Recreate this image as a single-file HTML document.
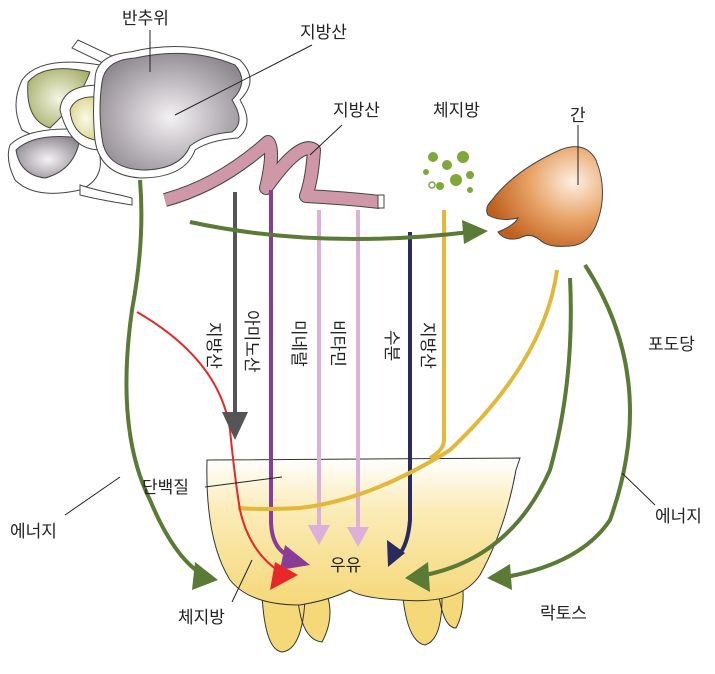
<!DOCTYPE html>
<html><head><meta charset="utf-8"><style>
html,body{margin:0;padding:0;background:#fff}
svg{display:block}
text{font-family:"Liberation Sans","Noto Sans CJK KR",sans-serif;font-size:17px;fill:#222}
</style></head><body>
<svg width="715" height="674" viewBox="0 0 715 674" xmlns="http://www.w3.org/2000/svg">
<defs>
<radialGradient id="gray" cx="0.5" cy="0.55" r="0.6"><stop offset="0" stop-color="#f4f2f4"/><stop offset="1" stop-color="#8f8890"/></radialGradient>
<radialGradient id="grn" cx="0.5" cy="0.5" r="0.6"><stop offset="0" stop-color="#f4f6e4"/><stop offset="1" stop-color="#a8b06a"/></radialGradient>
<radialGradient id="yel" cx="0.5" cy="0.5" r="0.6"><stop offset="0" stop-color="#fbfbe8"/><stop offset="1" stop-color="#d8d28a"/></radialGradient>
<radialGradient id="liv" cx="0.75" cy="0.35" r="0.75"><stop offset="0" stop-color="#fdf0e4"/><stop offset="0.5" stop-color="#e8a468"/><stop offset="1" stop-color="#c0601e"/></radialGradient>
<linearGradient id="udd" x1="0" y1="0" x2="0" y2="1"><stop offset="0" stop-color="#fff"/><stop offset="0.35" stop-color="#fbecb8"/><stop offset="1" stop-color="#f5d878"/></linearGradient>
</defs>

<!-- stomach -->
<path d="M72 48 L78 40 L112 56 L105 64 Z" fill="#fff" stroke="#444" stroke-width="1"/>
<path d="M22 80 Q40 55 100 65 Q110 120 95 140 Q60 150 22 130 Q10 105 22 80Z" fill="#fff" stroke="#444" stroke-width="1"/>
<path d="M28 82 Q45 62 90 72 Q80 100 50 128 Q25 120 28 82Z" fill="url(#grn)" stroke="#444" stroke-width="1"/>
<path d="M10 145 Q30 125 90 130 Q115 175 80 190 Q35 200 15 180 Q5 160 10 145Z" fill="#fff" stroke="#444" stroke-width="1"/>
<path d="M16 150 Q35 132 80 138 Q75 170 45 178 Q20 175 16 150Z" fill="url(#gray)" stroke="#444" stroke-width="1"/>
<path d="M60 110 Q62 85 100 85 Q115 120 100 150 Q70 150 60 110Z" fill="#fff" stroke="#444" stroke-width="1"/>
<path d="M70 110 Q75 95 100 97 Q105 125 95 140 Q72 135 70 110Z" fill="url(#yel)" stroke="#444" stroke-width="1"/>
<path d="M80 185 Q95 190 120 195 L132 198 L132 205 Q100 200 80 195 Z" fill="#fff" stroke="#444" stroke-width="1"/>
<path d="M95 80 Q95 55 130 52 Q190 38 240 60 Q260 80 240 100 Q255 125 238 138 Q210 140 195 150 Q185 178 140 178 Q100 175 95 140 Q92 110 95 80Z" fill="#fff" stroke="#444" stroke-width="1"/>
<path d="M102 82 Q105 60 135 58 Q190 46 235 65 Q250 82 232 100 Q246 122 232 132 Q205 134 190 146 Q180 170 142 170 Q105 168 102 138 Q98 110 102 82Z" fill="url(#gray)" stroke="#444" stroke-width="1"/>

<!-- intestine -->
<path d="M165 200 Q220 185 268 142 Q275 150 266 188 Q300 140 314 150 Q312 180 306 196 Q345 198 380 202" fill="none" stroke="#444" stroke-width="14" stroke-linejoin="round"/>
<path d="M165 200 Q220 185 268 142 Q275 150 266 188 Q300 140 314 150 Q312 180 306 196 Q345 198 380 202" fill="none" stroke="#cf98a8" stroke-width="12" stroke-linejoin="round"/>
<rect x="378" y="195" width="6" height="13" fill="#fff" stroke="#444"/>

<!-- liver -->
<path d="M492 200 Q515 170 560 150 Q585 140 596 160 Q608 190 598 220 Q590 245 570 246 Q548 248 540 240 Q530 232 520 238 Q505 242 498 232 Q515 225 518 218 Q500 222 488 215 Q484 208 492 200Z" fill="url(#liv)" stroke="#444" stroke-width="1"/>

<!-- fat droplets -->
<g fill="#7ea83a">
<circle cx="433" cy="157" r="5"/><circle cx="447" cy="165" r="5"/><circle cx="463" cy="157" r="6"/><circle cx="470" cy="175" r="4"/>
<circle cx="456" cy="180" r="6"/><circle cx="440" cy="186" r="4"/><circle cx="470" cy="190" r="3"/><circle cx="426" cy="172" r="3"/>
</g>
<circle cx="432" cy="185" r="3" fill="none" stroke="#7ea83a" stroke-width="1.5"/>

<!-- udder -->
<path d="M262 595 Q265 650 282 652 Q302 650 305 600 Z M298 600 Q302 640 322 642 Q334 620 328 598Z M403 598 Q408 642 425 645 Q442 640 442 598Z M438 590 Q443 628 456 628 Q466 610 462 578Z" fill="#f5d878" stroke="#333" stroke-width="1"/>
<path d="M207 460 L520 458 L516 470 Q505 530 480 575 Q460 605 400 600 Q360 598 350 590 Q330 600 300 605 Q250 605 230 580 Q205 540 207 460Z" fill="url(#udd)" stroke="#333" stroke-width="1"/>

<!-- arrows -->
<g fill="none" stroke-width="4">
<path d="M235 192 V420" stroke="#555"/>
<path d="M271 190 V520 Q271 552 295 558" stroke="#8a3d96"/>
<path d="M319 210 V530" stroke="#dcb0d8"/>
<path d="M358 210 V532" stroke="#dcb0d8"/>
<path d="M410 232 V520 Q408 545 398 556" stroke="#2a2a60"/>
<path d="M444 210 V440 Q444 450 430 458" stroke="#e2b83a"/>
<path d="M557 270 Q545 360 450 450 Q370 500 300 508 Q260 510 238 508" stroke="#e2b83a"/>
<path d="M137 312 Q220 360 230 430 Q235 480 240 510 Q250 555 285 575" stroke="#e82828" stroke-width="2"/>
<path d="M140 180 Q145 240 132 310 Q115 430 150 500 Q175 560 205 576" stroke="#5a7a36"/>
<path d="M190 222 Q320 250 470 232" stroke="#5a7a36"/>
<path d="M570 278 Q575 380 550 470 Q510 560 420 576" stroke="#5a7a36"/>
<path d="M585 265 Q660 380 610 520 Q580 565 500 578" stroke="#5a7a36"/>
</g>
<g>
<polygon points="222,412 248,412 235,440" fill="#555"/>
<polygon points="285,545 310,565 280,570" fill="#8a3d96"/>
<polygon points="308,525 330,525 319,545" fill="#dcb0d8"/>
<polygon points="347,527 369,527 358,547" fill="#dcb0d8"/>
<polygon points="387,540 405,553 388,567" fill="#2a2a60"/>
<polygon points="275,562 298,575 270,590" fill="#e82828"/>
<polygon points="195,562 218,580 192,590" fill="#5a7a36"/>
<polygon points="462,220 488,231 464,244" fill="#5a7a36"/>
<polygon points="428,562 405,578 430,592" fill="#5a7a36"/>
<polygon points="510,564 487,578 512,590" fill="#5a7a36"/>
</g>

<!-- leader lines -->
<g stroke="#222" stroke-width="1">
<line x1="150" y1="30" x2="150" y2="72"/>
<line x1="312" y1="45" x2="175" y2="115"/>
<line x1="342" y1="125" x2="310" y2="155"/>
<line x1="578" y1="125" x2="578" y2="185"/>
<line x1="65" y1="515" x2="120" y2="477"/>
<line x1="655" y1="505" x2="622" y2="473"/>
<line x1="205" y1="487" x2="282" y2="477"/>
<line x1="232" y1="602" x2="252" y2="560"/>
</g>

<!-- labels -->
<text x="122" y="24">반추위</text>
<text x="300" y="38">지방산</text>
<text x="333" y="116">지방산</text>
<text x="433" y="116">체지방</text>
<text x="570" y="121">간</text>
<text x="648" y="350">포도당</text>
<text x="655" y="522">에너지</text>
<text x="10" y="537">에너지</text>
<text x="540" y="619">락토스</text>
<text x="178" y="623">체지방</text>
<text x="142" y="493">단백질</text>
<text x="330" y="571">우유</text>
<g>
<text transform="translate(208,322) rotate(90)">지방산</text>
<text transform="translate(246,310) rotate(90)">아미노산</text>
<text transform="translate(293,320) rotate(90)">미네랄</text>
<text transform="translate(332,320) rotate(90)">비타민</text>
<text transform="translate(386,330) rotate(90)">수분</text>
<text transform="translate(422,322) rotate(90)">지방산</text>
</g>
</svg>
</body></html>
